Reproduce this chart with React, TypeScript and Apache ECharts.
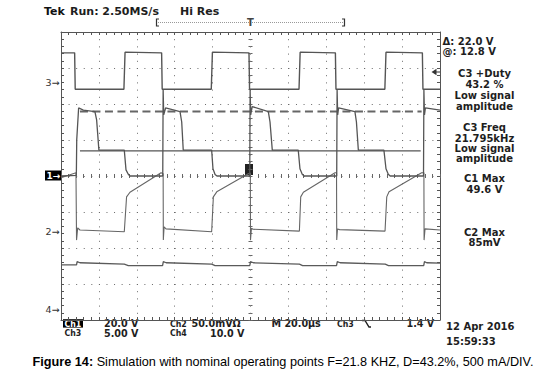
import React, { useEffect, useRef } from "react";
import * as echarts from "echarts";

// time in µs (20 µs/div, 10 div), values in screen divisions (-4..4)
const ch3Trace: number[][] = [
  [0, 3.42], [7.2, 3.42], [7.5, 2.41], [33.2, 2.41], [33.8, 3.44], [53.1, 3.42], [53.4, 2.41],
  [79.3, 2.41], [79.9, 3.44], [99.2, 3.42], [99.5, 2.41], [125.6, 2.41], [126.2, 3.44],
  [144.8, 3.42], [145.1, 2.41], [170.9, 2.41], [171.5, 3.44], [190.7, 3.42], [191.0, 2.41], [200, 2.41],
];

const ch1Trace: number[][] = [
  [0, 0.0], [8.1, 0.02], [8.3, 1.0], [9.3, 1.89], [11.8, 1.83], [17.9, 1.79], [18.8, 1.56], [20.0, 0.72],
  [33.4, 0.72], [34.3, 0.17], [35.5, 0.05], [36.4, 0.0], [53.7, 0.0], [53.9, 2.4], [54.2, 1.7],
  [55.2, 1.89], [62.8, 1.79], [63.7, 1.5], [64.5, 0.72], [79.5, 0.72], [80.2, 0.2], [81.3, 0.04],
  [82.3, 0.0], [99.6, 0.0], [99.8, 2.4], [100.1, 1.7], [100.9, 1.93], [109.4, 1.79], [110.3, 1.5],
  [111.5, 0.72], [125.2, 0.72], [126.1, 0.2], [127.3, 0.05], [128.3, 0.0], [145.5, 0.0], [145.7, 2.4],
  [146.0, 1.7], [146.5, 1.89], [155.1, 1.79], [155.9, 1.5], [156.9, 0.72], [170.4, 0.72], [171.5, 0.2],
  [172.7, 0.05], [173.7, 0.0], [191.3, 0.0], [191.5, 2.4], [191.8, 1.7], [192.3, 1.89], [200, 1.83],
];

const ch2Trace: number[][] = [
  [0, -0.05], [7.9, 0.09], [8.2, -1.78], [8.8, -1.44], [10.0, -1.5], [33.4, -1.55], [34.6, -0.58],
  [36.4, -0.45], [52.8, 0.09], [53.9, 0.06], [54.0, -1.78], [54.4, -1.41], [55.4, -1.47], [79.5, -1.55],
  [80.4, -0.58], [82.2, -0.44], [98.8, 0.06], [99.9, 0.08], [100.0, -1.78], [100.5, -1.45], [101.3, -1.48],
  [125.8, -1.53], [126.5, -0.58], [127.9, -0.45], [144.6, 0.09], [145.4, 0.09], [145.5, -1.78],
  [145.9, -1.47], [147.0, -1.49], [171.0, -1.53], [171.9, -0.58], [173.1, -0.44], [190.3, 0.09],
  [191.5, 0.09], [191.6, -1.78], [192.1, -1.47], [200, -1.5],
];

const ch4Trace: number[][] = [
  [0, -2.47], [8.2, -2.47], [8.5, -2.38], [10, -2.41], [33.4, -2.45], [35.5, -2.49], [53.6, -2.49],
  [54.0, -2.38], [55.5, -2.41], [79.5, -2.45], [81.3, -2.49], [99.6, -2.49], [100.0, -2.38],
  [101.5, -2.41], [125.8, -2.45], [127.5, -2.49], [145.4, -2.49], [145.8, -2.38], [147.3, -2.41],
  [171.1, -2.45], [172.8, -2.49], [191.4, -2.49], [191.8, -2.38], [193, -2.41], [200, -2.42],
];

const cursorDashed: number[][] = [[10.0, 1.79], [190.3, 1.79]];
const cursorSolid: number[][] = [[10.0, 0.7], [189.8, 0.7]];

// channel reference markers (divisions)
const channelMarkers = [
  { label: "3", level: 2.61, boxed: false },
  { label: "1", level: 0, boxed: true },
  { label: "2", level: -1.55, boxed: false },
  { label: "4", level: -3.72, boxed: false },
];

const readoutLines = [
  { text: "C3 +Duty", y: 73.5 },
  { text: "43.2 %", y: 84.5 },
  { text: "Low signal", y: 95.5 },
  { text: "amplitude", y: 106 },
  { text: "C3 Freq", y: 127.5 },
  { text: "21.795kHz", y: 138 },
  { text: "Low signal", y: 148.5 },
  { text: "amplitude", y: 158.5 },
  { text: "C1 Max", y: 178.5 },
  { text: "49.6 V", y: 189 },
  { text: "C2 Max", y: 232.5 },
  { text: "85mV", y: 242.5 },
];

const G = { left: 61, top: 32, width: 379, height: 288 };
const SCOPE_FONT = "DejaVu Sans";
const INK = "#1e1e1e";

export default function App() {
  const ref = useRef<HTMLDivElement>(null);

  useEffect(() => {
    if (!ref.current) return;
    const chart = echarts.init(ref.current, undefined, { renderer: "svg" });
    const cy = G.top + G.height / 2;
    const yPx = (v: number) => cy - (v * G.height) / 8;

    const txt = (text: string, x: number, y: number, extra: any = {}, el: any = {}) => ({
      type: "text",
      x,
      y,
      ...el,
      style: {
        text,
        fill: INK,
        font: `bold 10px "${SCOPE_FONT}"`,
        lineHeight: 8.5,
        textVerticalAlign: "middle",
        textAlign: "left",
        ...extra,
      },
    });
    const ROW1 = 323.4;
    const ROW2 = 333.2;
    const small = { font: `bold 9.6px "${SCOPE_FONT}"`, lineHeight: 8 };
    const chLabel = (text: string, x: number, y: number, extra: any = {}) =>
      txt(text, x, y, { ...small, ...extra }, { scaleX: 0.82 });

    const tickStyle = { color: "#555", width: 1 };
    const borderX = (position: string) => ({
      type: "value", min: 0, max: 200, interval: 20, position,
      axisLine: { show: true, onZero: false, lineStyle: { color: "#555", width: 1 } },
      axisTick: { show: true, inside: true, length: 3, lineStyle: tickStyle },
      minorTick: { show: true, splitNumber: 5, length: 3, lineStyle: tickStyle },
      axisLabel: { show: false },
      splitLine: { show: false },
    });
    const borderY = (position: string) => ({
      type: "value", min: -4, max: 4, interval: 1, position,
      axisLine: { show: true, onZero: false, lineStyle: { color: "#555", width: 1 } },
      axisTick: { show: true, inside: true, length: 3, lineStyle: tickStyle },
      minorTick: { show: true, splitNumber: 5, length: 3, lineStyle: tickStyle },
      axisLabel: { show: false },
      splitLine: { show: false },
    });
    const centerX = (inside: boolean) => ({
      type: "value", min: 0, max: 200, interval: 20, position: "bottom", offset: -G.height / 2,
      axisLine: { show: false, onZero: false },
      axisTick: { show: true, inside, length: 2, lineStyle: { color: "#666" } },
      minorTick: { show: true, splitNumber: 5, length: 2, lineStyle: { color: "#666" } },
      axisLabel: { show: false },
      splitLine: { show: false },
    });
    const centerY = (inside: boolean) => ({
      type: "value", min: -4, max: 4, interval: 1, position: "left", offset: -G.width / 2,
      axisLine: { show: false, onZero: false },
      axisTick: { show: true, inside, length: 2, lineStyle: { color: "#666" } },
      minorTick: { show: true, splitNumber: 5, length: 2, lineStyle: { color: "#666" } },
      axisLabel: { show: false },
      splitLine: { show: false },
    });

    const xMain: any = borderX("bottom");
    xMain.splitLine = { show: true, lineStyle: { color: "#6a6a6a", width: 1, type: [1, 6.2] } };
    const yMain: any = borderY("left");
    yMain.splitLine = { show: true, lineStyle: { color: "#6a6a6a", width: 1, type: [1, 6.58] } };

    const traceSeries = (data: number[][], color: string, width: number) => ({
      type: "line",
      data,
      xAxisIndex: 0,
      yAxisIndex: 0,
      showSymbol: false,
      symbol: "none",
      silent: true,
      lineStyle: { color, width },
      z: 3,
    });

    const graphics: any[] = [
      // header
      txt("Tek", 44, 11, { font: `bold 11px "${SCOPE_FONT}"`, fill: "#111", lineHeight: 11 }),
      txt("Run: 2.50MS/s", 70, 11, { font: `bold 11px "${SCOPE_FONT}"`, lineHeight: 11 }),
      txt("Hi Res", 180, 11, { font: `bold 11px "${SCOPE_FONT}"`, lineHeight: 11 }),
      // record bracket
      { type: "line", shape: { x1: 158, y1: 22.5, x2: 343, y2: 22.5 }, style: { stroke: "#999", lineWidth: 1, lineDash: [1, 1] } },
      { type: "polyline", shape: { points: [[159, 19], [156.5, 19], [156.5, 26], [159, 26]] }, style: { stroke: "#333", lineWidth: 1.2, fill: null } },
      { type: "polyline", shape: { points: [[342, 19], [344.5, 19], [344.5, 26], [342, 26]] }, style: { stroke: "#333", lineWidth: 1.2, fill: null } },
      txt("T", 250.5, 22, { textAlign: "center", font: `bold 10px "${SCOPE_FONT}"`, fill: "#444" }),
      // right panel
      txt("\u0394: 22.0 V", 442.5, 41, { lineHeight: 10 }),
      txt("@: 12.8 V", 442.5, 51.5, { lineHeight: 10 }),
      ...readoutLines.map((l) => txt(l.text, 484.5, l.y, { textAlign: "center", lineHeight: 10 })),
      // trigger level arrow on right edge
      { type: "polygon", shape: { points: [[431.5, 72], [436.5, 68.8], [436.5, 75.2]] }, style: { fill: "#333" } },
      { type: "line", shape: { x1: 436, y1: 72, x2: 440, y2: 72 }, style: { stroke: "#333", lineWidth: 1 } },
      // trigger position blob
      { type: "rect", shape: { x: 245, y: 164, width: 8, height: 11 }, style: { fill: "#222" } },
      // bottom readouts
      { type: "rect", shape: { x: 63, y: 319.2, width: 20, height: 8.4 }, style: { fill: "#000" } },
      chLabel("Ch1", 64.5, ROW1, { fill: "#fff" }),
      chLabel("Ch3", 64.5, ROW2),
      txt("20.0 V", 104, ROW1, small),
      txt("5.00 V", 104, ROW2, small),
      chLabel("Ch2", 170, ROW1),
      txt("50.0mV\u03a9", 191.5, ROW1, small),
      chLabel("Ch4", 170, ROW2),
      txt("10.0 V", 210, ROW2, small),
      txt("M 20.0\u00b5s", 271.5, ROW1, small),
      chLabel("Ch3", 337, ROW1),
      { type: "polyline", shape: { points: [[362, 320.5], [365, 320.5], [369, 327], [371, 327]] }, style: { stroke: INK, lineWidth: 1.4, fill: null } },
      txt("1.4 V", 406.5, ROW1, small),
      txt("12 Apr 2016", 446, 326.5, { lineHeight: 10 }),
      txt("15:59:33", 446, 341.5, { lineHeight: 10 }),
      // caption
      {
        type: "text",
        x: 32.5,
        y: 362,
        style: {
          text: "{b|Figure 14:} Simulation with nominal operating points F=21.8 KHZ, D=43.2%, 500 mA/DIV.",
          fill: "#000",
          font: `12.7px "Liberation Sans"`,
          textVerticalAlign: "middle",
          rich: { b: { fontWeight: "bold", fontSize: 12.7, fontFamily: "Liberation Sans", fill: "#000" } },
        },
      },
    ];

    channelMarkers.forEach((m) => {
      const y = yPx(m.level);
      if (m.boxed) {
        graphics.push({ type: "rect", shape: { x: 45, y: y - 5.5, width: 16, height: 10 }, style: { fill: "#000" } });
        graphics.push(txt(m.label + "\u2192", 46.5, y, { fill: "#fff", font: `bold 9px "${SCOPE_FONT}"` }));
      } else {
        graphics.push(txt(m.label + "\u2192", 45.5, y, { font: `9.5px "${SCOPE_FONT}"`, fill: "#333" }));
      }
    });

    chart.setOption({
      animation: false,
      backgroundColor: "#fff",
      grid: { left: G.left, top: G.top, width: G.width, height: G.height, containLabel: false },
      xAxis: [xMain, borderX("top"), centerX(true), centerX(false)],
      yAxis: [yMain, borderY("right"), centerY(true), centerY(false)],
      series: [
        {
          ...traceSeries(cursorDashed, "#666", 2),
          lineStyle: { color: "#666", width: 2, type: [8, 4.5] },
          z: 2,
        },
        { ...traceSeries(cursorSolid, "#555", 1.3), z: 2 },
        traceSeries(ch4Trace, "#5a5a5a", 1.3),
        traceSeries(ch2Trace, "#666", 1.1),
        traceSeries(ch1Trace, "#555", 1.3),
        traceSeries(ch3Trace, "#555", 1.4),
      ],
      graphic: graphics,
    });

    return () => chart.dispose();
  }, []);

  return (
    <div
      ref={ref}
      style={{ position: "absolute", left: 0, top: 0, width: 553, height: 375 }}
    />
  );
}
